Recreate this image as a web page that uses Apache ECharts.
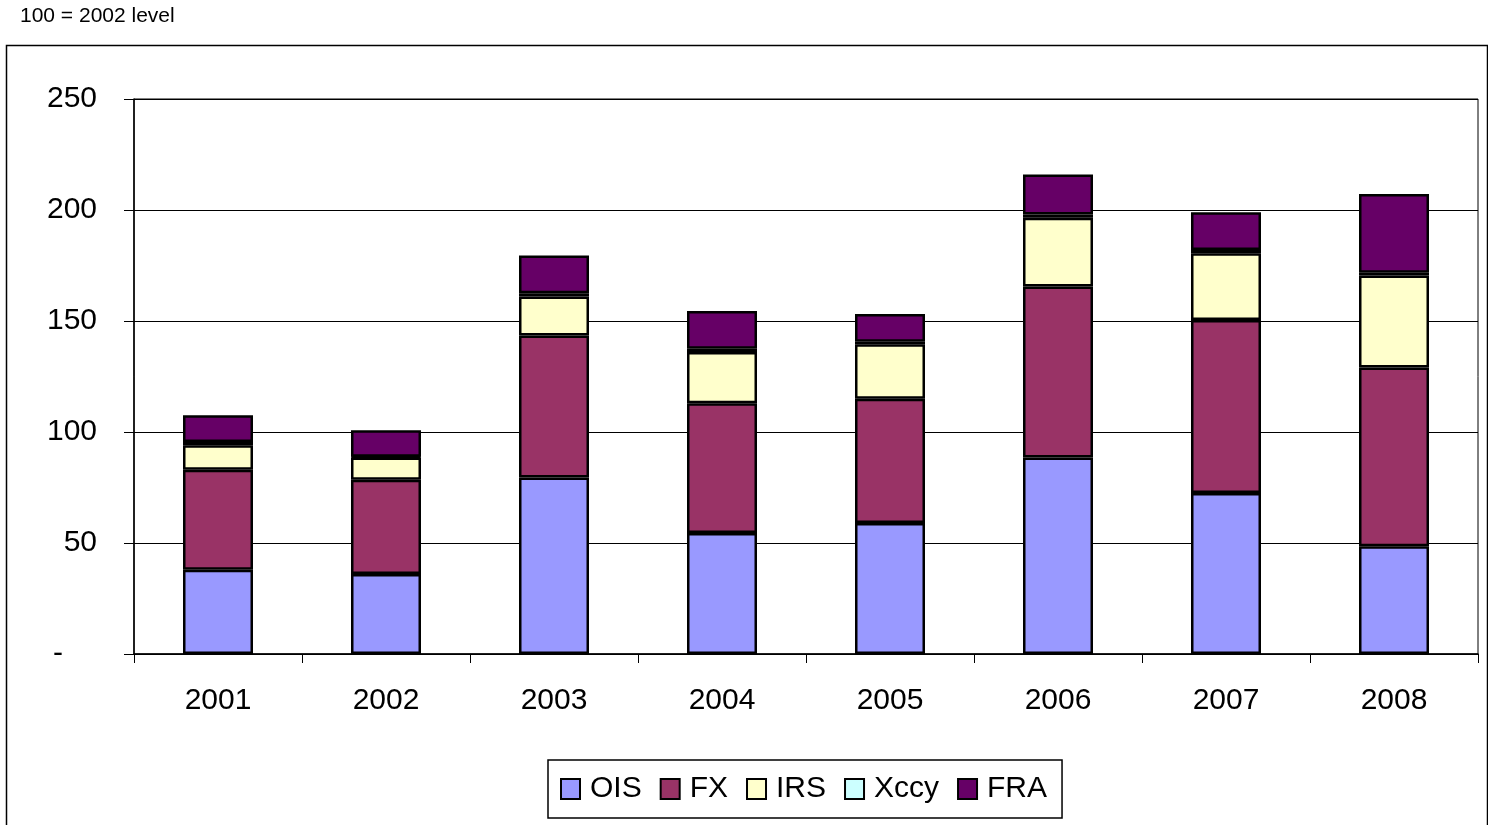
<!DOCTYPE html>
<html>
<head>
<meta charset="utf-8">
<script src="https://cdn.jsdelivr.net/npm/echarts@6/dist/echarts.min.js"></script>
<style>
  html, body { margin: 0; padding: 0; background: #fff; }
  #chart { width: 1488px; height: 825px; }
</style>
</head>
<body>
<div id="chart"></div>
<script>
var years = ['2001', '2002', '2003', '2004', '2005', '2006', '2007', '2008'];
var ois  = [38, 36, 79.5, 54.5, 59, 88.5, 72.5, 48.5];
var fx   = [45, 42.5, 64, 58.5, 56, 77, 78, 80.5];
var irs  = [11, 10, 17.5, 23, 24.5, 31, 30, 41.5];
var xccy = [1.5, 0.3, 1.5, 1.5, 1.2, 1.5, 1.5, 1.2];
var fra  = [12, 12, 17, 17, 12.5, 18, 17, 35.5];
var yTicks = ['-', '50', '100', '150', '200', '250'];

var font = 'Liberation Sans, Arial, sans-serif';

function bar(name, data, color) {
    return {
        name: name,
        type: 'bar',
        stack: 'total',
        barWidth: 70,
        data: data,
        itemStyle: { color: color, borderColor: '#000', borderWidth: 2.5 }
    };
}

var myChart = echarts.init(document.getElementById('chart'));
myChart.setOption({
    animation: false,
    backgroundColor: '#fff',
    textStyle: { fontFamily: font, color: '#000' },
    graphic: [
        {
            type: 'rect',
            shape: { x: 6.5, y: 45.5, width: 1481, height: 785 },
            style: { fill: 'none', stroke: '#000', lineWidth: 1.5 }
        },
        {
            type: 'text',
            left: 20, top: 6,
            style: { text: '100 = 2002 level', fontSize: 21, fontFamily: font, fill: '#000' }
        }
    ],
    grid: {
        left: 134, right: 10, top: 99, bottom: 171,
        show: true, borderColor: '#000', borderWidth: 1, backgroundColor: '#fff'
    },
    legend: {
        left: 548, top: 760,
        padding: [14, 15, 14, 12],
        borderColor: '#000', borderWidth: 1.5, backgroundColor: '#fff',
        itemWidth: 19, itemHeight: 20, itemGap: 18,
        icon: 'rect',
        itemStyle: { borderColor: '#000', borderWidth: 2 },
        textStyle: { fontSize: 30, fontFamily: font, color: '#000', padding: [0, 0, 0, 5] },
        data: ['OIS', 'FX', 'IRS', 'Xccy', 'FRA']
    },
    xAxis: {
        type: 'category',
        data: years,
        axisLine: { lineStyle: { color: '#000', width: 1.5 } },
        axisTick: { show: true, length: 9, lineStyle: { color: '#000' } },
        axisLabel: { fontSize: 30, color: '#000', margin: 32 }
    },
    yAxis: {
        type: 'value',
        min: 0, max: 250, interval: 50,
        axisLine: { show: true, lineStyle: { color: '#000', width: 1.5 } },
        axisTick: { show: true, length: 10, lineStyle: { color: '#000' } },
        splitLine: { lineStyle: { color: '#000', width: 1 } },
        axisLabel: {
            fontSize: 30, color: '#000', margin: 37,
            formatter: function (v) {
                var t = yTicks[Math.round(v / 50)];
                return v === 0 ? '{z|' + t + '}' : t;
            },
            rich: { z: { fontSize: 30, fontFamily: font, color: '#000', padding: [0, 34, 0, 0] } }
        }
    },
    series: [
        bar('OIS', ois, '#9999FF'),
        bar('FX', fx, '#993366'),
        bar('IRS', irs, '#FFFFCC'),
        bar('Xccy', xccy, '#CCFFFF'),
        bar('FRA', fra, '#660066')
    ]
});
</script>
</body>
</html>
